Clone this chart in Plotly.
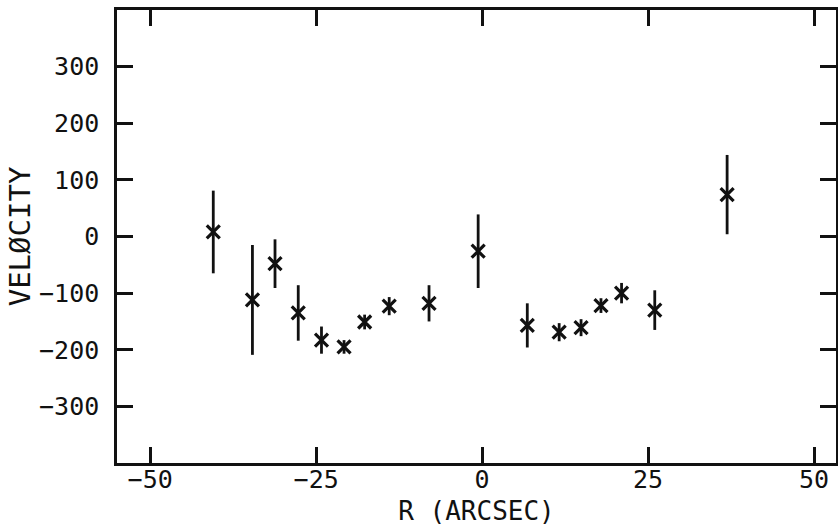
import plotly.graph_objects as go

r_arcsec = [-40.5, -34.6, -31.2, -27.7, -24.2, -20.8, -17.7, -14.0, -8.0, -0.6,
            6.8, 11.6, 14.9, 17.9, 21.0, 26.0, 36.9]
velocity = [8, -112, -48, -135, -183, -195, -151, -123, -118, -26,
            -157, -169, -161, -122, -100, -130, 74]
vel_err = [73, 97, 43, 49, 24, 12, 13, 16, 32, 65,
           39, 16, 15, 13, 18, 35, 70]

x_ticks = [-50, -25, 0, 25, 50]
y_ticks = [-300, -200, -100, 0, 100, 200, 300]

ink = "#111111"
font_fam = "DejaVu Sans Mono"


def labels(vals):
    return [("−" if v < 0 else "") + str(abs(v)) for v in vals]


fig = go.Figure()
fig.add_trace(go.Scatter(
    x=r_arcsec, y=velocity,
    mode="markers",
    marker=dict(symbol="x-thin-open", size=13, line=dict(color=ink, width=3.2), color=ink),
    error_y=dict(type="data", array=vel_err, visible=True, color=ink, thickness=2.8, width=0),
    showlegend=False,
))

axis_common = dict(
    showline=True, linecolor=ink, linewidth=2.5, mirror="allticks",
    ticks="inside", ticklen=16, tickwidth=2.5, tickcolor=ink,
    showgrid=False, zeroline=False, automargin=False,
    tickfont=dict(family=font_fam, size=25, color=ink),
)

fig.update_xaxes(range=[-55, 53.3], tickvals=x_ticks, ticktext=labels(x_ticks),
                 ticklabelstandoff=-8,
                 title=dict(text="R (ARCSEC)", font=dict(family=font_fam, size=26, color=ink), standoff=16),
                 **axis_common)
fig.update_yaxes(range=[-400, 400], tickvals=y_ticks, ticktext=labels(y_ticks),
                 ticklabelstandoff=10,
                 title=dict(text="VELØCITY", font=dict(family=font_fam, size=29, color=ink), standoff=0),
                 **axis_common)

fig.update_layout(
    width=838, height=526,
    margin=dict(l=117, r=2, t=10, b=63),
    paper_bgcolor="white", plot_bgcolor="white",
)

fig.write_html(
    "out.html",
    config={"displayModeBar": False},
    post_script="document.body.style.margin='0';document.body.style.overflow='hidden';",
)
